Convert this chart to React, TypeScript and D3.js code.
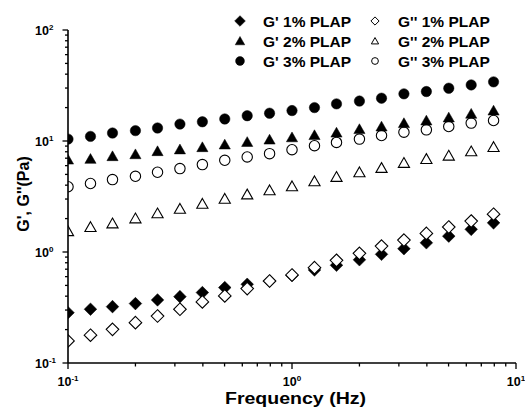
import React from 'react';
import * as d3 from 'd3';

// frequency sweep (Hz)
const freq = [0.1, 0.126, 0.158, 0.2, 0.251, 0.316, 0.398, 0.501, 0.631, 0.794,
  1.0, 1.26, 1.58, 2.0, 2.51, 3.16, 3.98, 5.01, 6.31, 7.94];

const gStore1 = [0.284, 0.305, 0.322, 0.343, 0.37, 0.396, 0.431, 0.478, 0.512, 0.545,
  0.615, 0.689, 0.759, 0.851, 0.953, 1.07, 1.21, 1.39, 1.6, 1.83];
const gLoss1 = [0.158, 0.178, 0.201, 0.231, 0.265, 0.305, 0.355, 0.402, 0.468, 0.548,
  0.621, 0.723, 0.842, 0.973, 1.13, 1.28, 1.47, 1.68, 1.9, 2.19];
const gStore2 = [6.8, 6.9, 7.3, 7.6, 8.1, 8.4, 8.8, 9.3, 9.8, 10.3,
  10.8, 11.3, 11.9, 12.8, 13.5, 14.5, 15.3, 16.3, 17.6, 18.8];
const gLoss2 = [1.54, 1.68, 1.81, 2.01, 2.23, 2.45, 2.72, 3.02, 3.3, 3.6,
  3.91, 4.34, 4.75, 5.23, 5.72, 6.35, 6.89, 7.38, 8.07, 8.83];
const gStore3 = [10.4, 11.0, 11.8, 12.4, 13.1, 14.2, 14.9, 15.8, 16.9, 17.8,
  18.8, 20.0, 21.6, 22.9, 24.3, 26.6, 27.9, 29.9, 32.0, 34.1];
const gLoss3 = [3.87, 4.14, 4.49, 4.81, 5.23, 5.64, 6.13, 6.7, 7.18, 7.69,
  8.35, 9.07, 9.71, 10.4, 11.2, 12.0, 12.6, 13.5, 14.5, 15.3];

const xTickExp = ['-1', '0', '1'];
const yTickExp = ['-1', '0', '1', '2'];

type Shape = 'diamond' | 'triangle' | 'circle';
const series = [
  { label: "G' 1% PLAP", values: gStore1, shape: 'diamond' as Shape, filled: true, col: 0, row: 0 },
  { label: 'G" 1% PLAP', values: gLoss1, shape: 'diamond' as Shape, filled: false, col: 1, row: 0 },
  { label: 'G" 2% PLAP', values: gLoss2, shape: 'triangle' as Shape, filled: false, col: 1, row: 1 },
  { label: 'G" 3% PLAP', values: gLoss3, shape: 'circle' as Shape, filled: false, col: 1, row: 2 },
  { label: "G' 2% PLAP", values: gStore2, shape: 'triangle' as Shape, filled: true, col: 0, row: 1 },
  { label: "G' 3% PLAP", values: gStore3, shape: 'circle' as Shape, filled: true, col: 0, row: 2 },
];

const marker = (shape: Shape, s: number) => {
  if (shape === 'diamond') return `M0,${-s}L${s},0L0,${s}L${-s},0Z`;
  if (shape === 'triangle') return `M0,${-s * 0.95}L${s},${s * 0.8}L${-s},${s * 0.8}Z`;
  return `M${s},0A${s},${s} 0 1,1 ${-s},0A${s},${s} 0 1,1 ${s},0Z`;
};
const dataSize = { diamond: 6.3, triangle: 5.6, circle: 5.2 };

export default function App() {
  const width = 525, height = 410;
  const x = d3.scaleLog().domain([0.1, 10]).range([68, 516]);
  const y = d3.scaleLog().domain([0.1, 100]).range([363, 30]);
  const font = 'Liberation Sans, Arial, sans-serif';

  const isMajor = (v: number) => Math.abs(Math.log10(v) - Math.round(Math.log10(v))) < 1e-6;

  return (
    <svg width={width} height={height} style={{ position: 'absolute', left: 0, top: 0, background: '#fff' }}
      fontFamily={font} fontWeight="bold">
      <defs>
        <clipPath id="plot">
          <rect x={68} y={20} width={460} height={343} />
        </clipPath>
      </defs>

      {/* data points */}
      <g clipPath="url(#plot)">
        {series.map(s => (
          <g key={s.label}>
            {s.values.map((v, i) => (
              <path key={i} d={marker(s.shape, dataSize[s.shape])}
                transform={`translate(${x(freq[i])},${y(v)})`}
                fill={s.filled ? '#000' : '#fff'} stroke="#000" strokeWidth={s.filled ? 0.5 : 1.1} />
            ))}
          </g>
        ))}
      </g>

      {/* y axis */}
      <g stroke="#000" strokeWidth={1.6}>
        <line x1={68} x2={68} y1={30} y2={363} />
        {y.ticks().map((t, i) => (
          <line key={i} x1={isMajor(t) ? 62.5 : 65} x2={68} y1={y(t)} y2={y(t)} strokeWidth={1.3} />
        ))}
      </g>
      {yTickExp.map(e => (
        <text key={e} x={35} y={y(Math.pow(10, +e)) + 5} fontSize={12.5}>
          10<tspan dy={-5} fontSize={8}>{e}</tspan>
        </text>
      ))}

      {/* x axis */}
      <g stroke="#000" strokeWidth={1.6}>
        <line x1={68} x2={516} y1={363} y2={363} />
        {x.ticks().map((t, i) => (
          <line key={i} y1={363} y2={isMajor(t) ? 369 : 366.5} x1={x(t)} x2={x(t)} strokeWidth={1.3} />
        ))}
      </g>
      {xTickExp.map(e => (
        <text key={e} x={x(Math.pow(10, +e))} y={386} fontSize={12.5} textAnchor="middle">
          10<tspan dy={-5} fontSize={8}>{e}</tspan>
        </text>
      ))}

      {/* axis titles */}
      <text x={295.5} y={403.5} fontSize={16} textAnchor="middle" textLength={141} lengthAdjust="spacingAndGlyphs">
        Frequency (Hz)
      </text>
      <text transform="translate(29,194) rotate(-90)" fontSize={16} textAnchor="middle">
        G', G''(Pa)
      </text>

      {/* legend */}
      {series.map(s => {
        const mx = s.col === 0 ? 240 : 375;
        const my = 21 + s.row * 20;
        const size = s.filled ? dataSize[s.shape] * 0.85 : dataSize[s.shape] * 0.65;
        return (
          <g key={s.label}>
            <path d={marker(s.shape, size)} transform={`translate(${mx},${my})`}
              fill={s.filled ? '#000' : '#fff'} stroke="#000" strokeWidth={s.filled ? 0.5 : 1} />
            <text x={mx + 23} y={my + 5.7} fontSize={15.5}>{s.label.replace('"', "''")}</text>
          </g>
        );
      })}
    </svg>
  );
}
